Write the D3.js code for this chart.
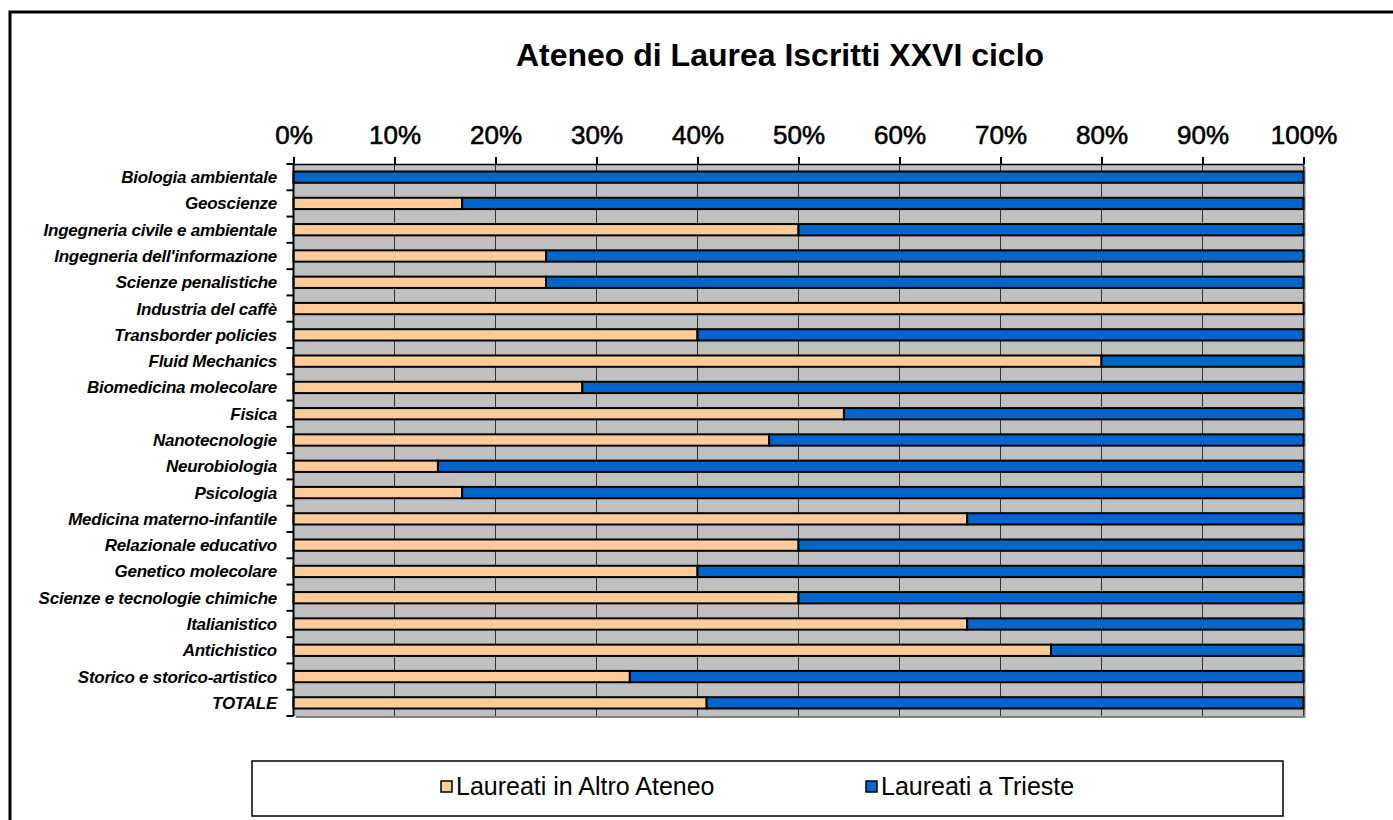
<!DOCTYPE html>
<html>
<head>
<meta charset="utf-8">
<script src="https://cdn.jsdelivr.net/npm/d3@7"></script>
<style>
  html, body { margin: 0; padding: 0; background: #fff; }
  svg { display: block; }
  text { font-family: "Liberation Sans", Arial, sans-serif; }
</style>
</head>
<body>
<svg id="chart" width="1393" height="820"></svg>
<script>
const title = "Ateneo di Laurea Iscritti XXVI ciclo";
const categories = [
  "Biologia ambientale", "Geoscienze", "Ingegneria civile e ambientale",
  "Ingegneria dell'informazione", "Scienze penalistiche", "Industria del caffè",
  "Transborder policies", "Fluid Mechanics", "Biomedicina molecolare", "Fisica",
  "Nanotecnologie", "Neurobiologia", "Psicologia", "Medicina materno-infantile",
  "Relazionale educativo", "Genetico molecolare", "Scienze e tecnologie chimiche",
  "Italianistico", "Antichistico", "Storico e storico-artistico", "TOTALE"
];
const altroAteneo = [0, 16.7, 50, 25, 25, 100, 40, 80, 28.6, 54.5, 47.1, 14.3, 16.7, 66.7, 50, 40, 50, 66.7, 75, 33.3, 40.9];
const trieste = altroAteneo.map(v => 100 - v);
const seriesNames = ["Laureati in Altro Ateneo", "Laureati a Trieste"];
const seriesColors = ["#FFCC99", "#0066CC"];
const xTicks = [0, 10, 20, 30, 40, 50, 60, 70, 80, 90, 100];

const svg = d3.select("#chart");

// outer frame
svg.append("rect").attr("x", 10).attr("y", 12).attr("width", 1400).attr("height", 830)
  .attr("fill", "none").attr("stroke", "#000").attr("stroke-width", 3);

// title
svg.append("text").attr("x", 780).attr("y", 66).attr("text-anchor", "middle")
  .attr("font-size", 32).attr("font-weight", "bold").attr("fill", "#000").text(title);

const x0 = 293.5, x1 = 1303.5, y0 = 164, y1 = 716;
const x = d3.scaleLinear().domain([0, 100]).range([x0, x1]);
const y = d3.scaleBand().domain(categories).range([y0, y1]).paddingInner(0.57).paddingOuter(0.285);

// plot area shadow + background
svg.append("rect").attr("x", x0 + 2).attr("y", y0 + 2).attr("width", x1 - x0).attr("height", y1 - y0)
  .attr("fill", "#808080");
svg.append("rect").attr("x", x0).attr("y", y0).attr("width", x1 - x0).attr("height", y1 - y0)
  .attr("fill", "#C0C0C0");

// gridlines
svg.append("g").selectAll("line").data(xTicks).join("line")
  .attr("x1", d => x(d)).attr("x2", d => x(d)).attr("y1", y0).attr("y2", y1)
  .attr("stroke", "#333").attr("stroke-width", 1);

// stacked bars
const stackData = categories.map((c, i) => ({ cat: c, a: altroAteneo[i], t: trieste[i] }));
const stack = d3.stack().keys(["a", "t"])(stackData);
svg.append("g").selectAll("g").data(stack).join("g")
  .attr("fill", (d, i) => seriesColors[i])
  .selectAll("rect").data(d => d.filter(s => s[1] - s[0] > 0)).join("rect")
  .attr("x", d => x(d[0])).attr("width", d => x(d[1]) - x(d[0]))
  .attr("y", d => y(d.data.cat)).attr("height", y.bandwidth())
  .attr("stroke", "#000").attr("stroke-width", 2);

// top axis
const xAxis = d3.axisTop(x).tickValues(xTicks).tickFormat(d => d + "%").tickSize(7).tickPadding(13);
const gx = svg.append("g").attr("transform", `translate(0,${y0})`).call(xAxis);
gx.select(".domain").attr("stroke", "#000").attr("stroke-width", 1.5);
gx.selectAll(".tick line").attr("stroke", "#000").attr("stroke-width", 2);
gx.selectAll(".tick text").attr("font-size", 26).attr("font-weight", "normal").attr("fill", "#000")
  .attr("stroke", "#000").attr("stroke-width", 0.6)
  .attr("font-family", "'Liberation Sans', Arial, sans-serif");

// left category axis: line, boundary ticks, labels
svg.append("line").attr("x1", x0).attr("x2", x0).attr("y1", y0).attr("y2", y1)
  .attr("stroke", "#000").attr("stroke-width", 2);
const step = y.step();
const bounds = d3.range(categories.length + 1).map(i => y0 + i * step);
svg.append("g").selectAll("line").data(bounds).join("line")
  .attr("x1", x0 - 7).attr("x2", x0).attr("y1", d => d).attr("y2", d => d)
  .attr("stroke", "#000").attr("stroke-width", 2);
svg.append("g").selectAll("text").data(categories).join("text")
  .attr("x", 277).attr("y", d => y(d) + y.bandwidth() / 2)
  .attr("dy", "0.35em").attr("text-anchor", "end")
  .attr("font-size", 17).attr("font-weight", "bold").attr("font-style", "italic")
  .attr("letter-spacing", -0.25).attr("fill", "#000")
  .text(d => d);

// legend
svg.append("rect").attr("x", 252).attr("y", 761).attr("width", 1031).attr("height", 55)
  .attr("fill", "#fff").attr("stroke", "#000").attr("stroke-width", 1.5);
const legendX = [441, 866];
const lg = svg.append("g").selectAll("g").data(seriesNames).join("g")
  .attr("transform", (d, i) => `translate(${legendX[i]},0)`);
lg.append("rect").attr("x", 0).attr("y", 781).attr("width", 11).attr("height", 11)
  .attr("fill", (d, i) => seriesColors[i]).attr("stroke", "#000").attr("stroke-width", 1.5);
lg.append("text").attr("x", 15).attr("y", 795).attr("font-size", 25).attr("fill", "#000")
  .text(d => d);
</script>
</body>
</html>
